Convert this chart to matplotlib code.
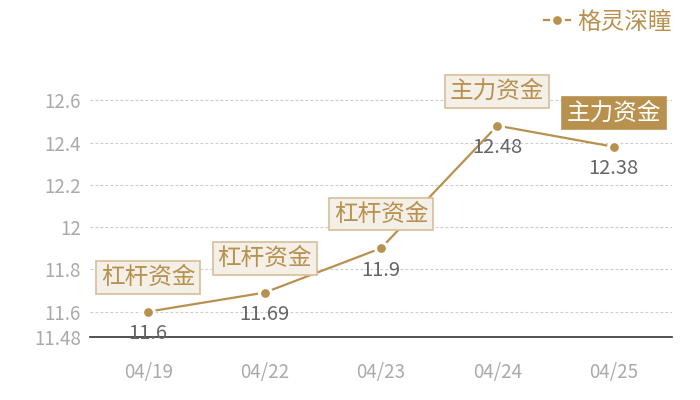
import matplotlib
matplotlib.use("Agg")
import matplotlib.pyplot as plt

dates = ["04/19", "04/22", "04/23", "04/24", "04/25"]
prices = [11.6, 11.69, 11.9, 12.48, 12.38]
tags = ["杠杆资金", "杠杆资金", "杠杆资金", "主力资金", "主力资金"]
yticks = [11.48, 11.6, 11.8, 12.0, 12.2, 12.4, 12.6]
ytick_labels = ["11.48", "11.6", "11.8", "12", "12.2", "12.4", "12.6"]
series_name = "格灵深瞳"

GOLD = "#b8914f"
plt.rcParams["font.family"] = ["Noto Sans CJK SC", "DejaVu Sans"]

fig = plt.figure(figsize=(7, 4), dpi=100)
ax = fig.add_axes([90 / 700, 63 / 400, 582 / 700, 279 / 400])

x = list(range(len(dates)))
ax.plot(x, prices, color=GOLD, linewidth=1.6, marker="o", markersize=8.5,
        markerfacecolor=GOLD, markeredgecolor="white", markeredgewidth=2.2,
        label=series_name, zorder=3)

for i, (v, tag) in enumerate(zip(prices, tags)):
    ax.annotate(f"{v:g}", (i, v), xytext=(0, -16), textcoords="offset points",
                ha="center", va="center", fontsize=14.5, color="#666666", zorder=4)
    last = i == len(prices) - 1
    ax.annotate(tag, (i, v), xytext=(0, 24.5), textcoords="offset points",
                ha="center", va="center", fontsize=17,
                color="white" if last else GOLD, zorder=5,
                bbox=dict(boxstyle="square,pad=0.2",
                          facecolor=GOLD if last else "#f4efe7",
                          edgecolor=GOLD if last else "#d6bf98",
                          linewidth=1.2))

ax.set_xlim(-0.5, len(dates) - 0.5)
ax.set_ylim(11.48, 12.8)
ax.set_xticks(x)
ax.set_xticklabels(dates)
ax.set_yticks(yticks)
ax.set_yticklabels(ytick_labels)
ax.tick_params(axis="x", length=0, pad=18, labelsize=13.5, labelcolor="#aaaaaa")
ax.tick_params(axis="y", length=0, pad=6.5, labelsize=13.5, labelcolor="#aaaaaa")

for y in yticks[1:]:
    ax.axhline(y, color="#cccccc", linewidth=0.8, linestyle=(0, (2.5, 2)), zorder=1)

for side in ["top", "right", "left"]:
    ax.spines[side].set_visible(False)
ax.spines["bottom"].set_color("#333333")
ax.spines["bottom"].set_linewidth(1.2)

leg = fig.legend(loc="upper right", bbox_to_anchor=(0.975, 1.0), frameon=False,
                 fontsize=17, handlelength=1.1, handletextpad=0.3,
                 labelcolor=GOLD, borderaxespad=0.05)

fig.savefig("out.png", dpi=100, facecolor="white")
